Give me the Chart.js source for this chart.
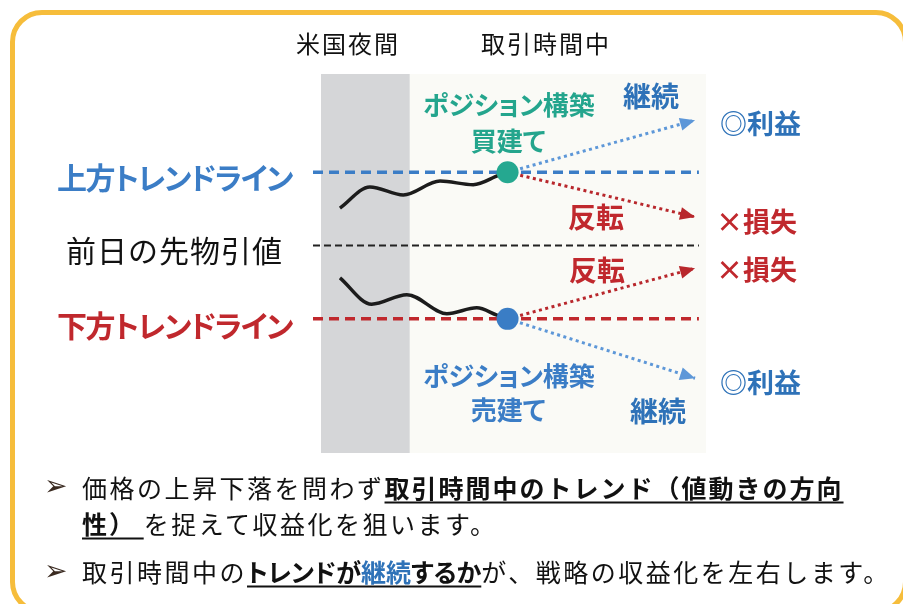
<!DOCTYPE html>
<html><head><meta charset="utf-8">
<script src="https://cdn.jsdelivr.net/npm/chart.js@4.4.0/dist/chart.umd.min.js"></script>
<style>
html,body{margin:0;padding:0;background:#fff;}
body{width:903px;height:604px;position:relative;overflow:hidden;font-family:"Noto Sans CJK JP","Noto Sans",sans-serif;color:#111;}
#frame{position:absolute;left:10px;top:10px;width:898px;height:604px;box-sizing:border-box;border:5px solid #F6BD3B;border-radius:32px;}
#wrap{position:absolute;left:0;top:0;width:903px;height:604px;}
.t{position:absolute;white-space:nowrap;line-height:1;}
.c{transform:translate(-50%,-50%);}
.l{transform:translateY(-50%);}
.b{font-weight:700;font-feature-settings:"palt";}
.hd{font-size:24px;letter-spacing:2px;}
.blue{color:#3B7DC6;}
.dblue{color:#2E72B8;}
.red{color:#C0282D;}
.teal{color:#24A58D;}
.txt{font-size:25px;letter-spacing:2.5px;}
.u{text-decoration:underline;text-decoration-thickness:2px;text-underline-offset:4px;}
.b1{font-weight:700;letter-spacing:2px;}
.b3{letter-spacing:0px;}
.bul{position:absolute;font-family:"DejaVu Sans";font-size:28px;color:#3a2a20;transform:translateY(-50%);line-height:1;}
</style></head>
<body>
<div id="frame"></div>
<div id="wrap"><canvas id="c" width="903" height="604"></canvas></div>

<div class="t c hd" style="left:348px;top:43px;">米国夜間</div>
<div class="t c hd" style="left:546px;top:43px;">取引時間中</div>

<div class="t l b blue" style="left:57px;top:176px;font-size:30px;letter-spacing:-1.5px;">上方トレンドライン</div>
<div class="t l" style="left:66px;top:249px;font-size:30px;letter-spacing:1px;">前日の先物引値</div>
<div class="t l b red" style="left:57px;top:324px;font-size:30px;letter-spacing:-1.5px;">下方トレンドライン</div>

<div class="t c b teal" style="left:509px;top:104px;font-size:26px;">ポジション構築</div>
<div class="t c b teal" style="left:508px;top:140px;font-size:26px;">買建て</div>
<div class="t c b dblue" style="left:651px;top:95px;font-size:28px;">継続</div>
<div class="t l b dblue" style="left:720px;top:122px;font-size:27px;">◎利益</div>
<div class="t c b red" style="left:596px;top:216px;font-size:28px;">反転</div>
<div class="t l b red" style="left:716px;top:220px;font-size:27px;">×損失</div>
<div class="t c b red" style="left:597px;top:269px;font-size:28px;">反転</div>
<div class="t l b red" style="left:716px;top:268px;font-size:27px;">×損失</div>
<div class="t c b blue" style="left:509px;top:375px;font-size:26px;">ポジション構築</div>
<div class="t c b blue" style="left:508px;top:409px;font-size:26px;">売建て</div>
<div class="t c b dblue" style="left:658px;top:410px;font-size:28px;">継続</div>
<div class="t l b dblue" style="left:720px;top:381px;font-size:27px;">◎利益</div>

<div class="bul" style="left:44px;top:486px;">➢</div>
<div class="t l txt" style="left:82px;top:487px;">価格の上昇下落を問わず<span class="b1 u">取引時間中のトレンド（値動きの方向</span></div>
<div class="t l txt" style="left:82px;top:523px;"><span class="b1 u">性）&nbsp;</span>を捉えて収益化を狙います。</div>
<div class="bul" style="left:44px;top:571px;">➢</div>
<div class="t l txt" style="left:82px;top:571px;">取引時間中の<span class="b u b3">トレンドが<span class="dblue">継続</span>するか</span>が、戦略の収益化を左右します。</div>

<script>
// time axis: US night session 0-3, trading hours 3-13
const nightSession = [0, 3];
const daySession = [3, 13];
const lineSpan = [-0.27, 12.76];
// price levels
const upperTrend = 1;
const prevClose = 0;
const lowerTrend = -1;
// price paths up to the entry point
const upperWaveX = [0.64, 1.65, 2.78, 4.02, 5.14, 6.01, 6.3];
const upperWaveY = [0.51, 0.80, 0.69, 0.88, 0.83, 0.96, 1.0];
const lowerWaveX = [0.64, 1.71, 2.90, 4.25, 5.26, 5.94, 6.3];
const lowerWaveY = [-0.44, -0.80, -0.67, -0.93, -0.85, -0.95, -1.0];
// entry & scenario targets
const entryX = 6.3;
const targetX = 12.63;
const buyContinueY = 1.71;
const buyReverseY = 0.39;
const sellReverseY = -0.31;
const sellContinueY = -1.81;

const pts = (xs, ys) => xs.map((x, i) => ({x, y: ys[i]}));
const hline = (y) => [{x: lineSpan[0], y}, {x: lineSpan[1], y}];

const bandPlugin = {
  id: 'bands',
  beforeDatasetsDraw(chart) {
    const {ctx, chartArea, scales: {x}} = chart;
    ctx.save();
    ctx.fillStyle = '#D5D6D8';
    let a = x.getPixelForValue(nightSession[0]), b = x.getPixelForValue(nightSession[1]);
    ctx.fillRect(a, chartArea.top, b - a, chartArea.bottom - chartArea.top);
    ctx.fillStyle = '#FAFAF6';
    a = x.getPixelForValue(daySession[0]); b = x.getPixelForValue(daySession[1]);
    ctx.fillRect(a, chartArea.top, b - a, chartArea.bottom - chartArea.top);
    ctx.restore();
  }
};
const arrowPlugin = {
  id: 'arrows',
  afterDatasetsDraw(chart) {
    const {ctx} = chart;
    chart.data.datasets.forEach((ds, i) => {
      if (!ds.arrow) return;
      const pts = chart.getDatasetMeta(i).data;
      const p1 = pts[pts.length - 2], p2 = pts[pts.length - 1];
      const ang = Math.atan2(p2.y - p1.y, p2.x - p1.x);
      const L = 15, W = 6.5;
      ctx.save();
      ctx.translate(p2.x, p2.y);
      ctx.rotate(ang);
      ctx.fillStyle = ds.borderColor;
      ctx.beginPath();
      ctx.moveTo(0, 0);
      ctx.lineTo(-L, -W);
      ctx.lineTo(-L, W);
      ctx.closePath();
      ctx.fill();
      ctx.restore();
    });
  }
};

const dashed = (data, color, w, dash, order) => ({data, borderColor: color, borderWidth: w, borderDash: dash, pointRadius: 0, clip: false, order, borderCapStyle: 'butt'});
const wave = (data) => ({data, borderColor: '#1c1c1c', borderWidth: 3.5, pointRadius: 0, cubicInterpolationMode: 'monotone', clip: false, order: 5, borderCapStyle: 'butt'});
const arrow = (y0, y1, color) => ({data: [{x: entryX, y: y0}, {x: targetX, y: y1}], borderColor: color, borderWidth: 3, borderDash: [3, 3.5], pointRadius: 0, clip: false, order: 3, arrow: true});

new Chart(document.getElementById('c'), {
  type: 'line',
  data: {
    datasets: [
      {data: [{x: entryX, y: upperTrend}, {x: entryX, y: lowerTrend}], showLine: false, pointRadius: 11, pointHoverRadius: 11, pointBorderWidth: 0, pointBackgroundColor: ['#25A890', '#3A7DC5'], clip: false, order: 1},
      dashed(hline(upperTrend), '#3B7DC6', 3.5, [10, 6], 4),
      dashed(hline(prevClose), '#222222', 2, [7, 4], 4),
      dashed(hline(lowerTrend), '#C0282D', 3.5, [10, 6], 4),
      wave(pts(upperWaveX, upperWaveY)),
      wave(pts(lowerWaveX, lowerWaveY)),
      arrow(upperTrend, buyContinueY, '#5D97D8'),
      arrow(upperTrend, buyReverseY, '#B8272C'),
      arrow(lowerTrend, sellReverseY, '#B8272C'),
      arrow(lowerTrend, sellContinueY, '#5D97D8')
    ]
  },
  options: {
    responsive: false,
    animation: false,
    devicePixelRatio: 1,
    events: [],
    layout: {padding: {left: 321, right: 197, top: 74, bottom: 151}},
    plugins: {legend: {display: false}, tooltip: {enabled: false}},
    scales: {
      x: {type: 'linear', min: daySession[0] - nightSession[1], max: daySession[1], display: false},
      y: {type: 'linear', min: -2.83, max: 2.34, display: false}
    }
  },
  plugins: [bandPlugin, arrowPlugin]
});
</script>
</body></html>
